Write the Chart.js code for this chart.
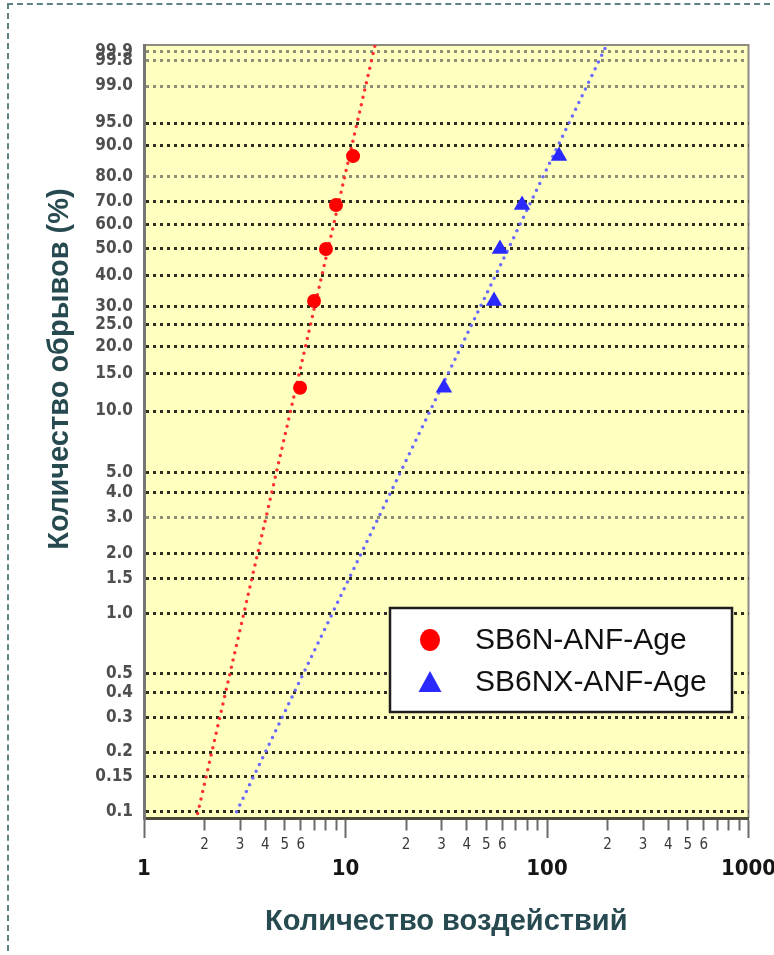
<!DOCTYPE html>
<html>
<head>
<meta charset="utf-8">
<script src="https://cdn.jsdelivr.net/npm/chart.js@4.4.1/dist/chart.umd.min.js"></script>
<style>
  body { margin: 0; background: #fff; }
  #wrap { position: relative; width: 774px; height: 955px; overflow: hidden; }
  #myChart { position: absolute; left: 0; top: 0; }
  #frame { position: absolute; left: 7px; top: 3px; right: -6px; bottom: -6px;
           border-top: 2px dashed #5f8283; border-left: 2px dashed #5f8283; pointer-events: none; }
</style>
</head>
<body>
<div id="wrap">
  <canvas id="myChart" width="774" height="955"></canvas>
  <div id="frame"></div>
</div>
<script>
// Weibull plot: cumulative breaks (%) vs number of impacts

// axis ticks
const yTickPct = [99.9, 99.8, 99, 95, 90, 80, 70, 60, 50, 40, 30, 25, 20, 15, 10, 5, 4, 3, 2, 1.5, 1, 0.5, 0.4, 0.3, 0.2, 0.15, 0.1];
const yAxisPct = [0.093, 99.94];
const xMajorTicks = [1, 10, 100, 1000];
const xMinorDigits = [2, 3, 4, 5, 6];

// series
const seriesNames = ['SB6N-ANF-Age', 'SB6NX-ANF-Age'];
const rankPct = [12.9, 31.5, 50.0, 68.5, 87.0];
const sb6nX = [5.95, 6.98, 8.0, 8.97, 10.9];
const sb6nxX = [30.8, 54.6, 58.4, 75.2, 114.7];

// fitted lines, end points
const sb6nFitX = [1.81, 14.1];
const sb6nFitPct = [0.09, 99.95];
const sb6nxFitX = [2.88, 200];
const sb6nxFitPct = [0.1, 99.95];

const xTitle = 'Количество воздействий';
const yTitle = 'Количество обрывов (%)';

function weib(p) {
    // Weibull probability axis
    return Math.log(-Math.log(1 - p / 100));
}

function pts(xs, ps) {
    return xs.map((x, i) => ({x: x, y: weib(ps[i])}));
}

function pctLabel(p) {
    return p >= 1 ? p.toFixed(1) : String(p);
}

function isMajor(v) {
    return xMajorTicks.includes(v);
}

function mantissa(v) {
    return v / Math.pow(10, Math.floor(Math.log10(v) + 1e-9));
}

const narrow = "'Liberation Sans Narrow', 'DejaVu Sans Condensed', 'Liberation Sans', sans-serif";
const titleColor = '#264a50';
const lightLines = [99.9, 99.8, 99, 80, 3];

Chart.defaults.font.family = "'Liberation Sans', Arial, sans-serif";

const plotBg = {
    id: 'plotBg',
    beforeDraw(chart) {
        const {ctx, chartArea: a} = chart;
        ctx.save();
        ctx.fillStyle = '#ffffc0';
        ctx.fillRect(a.left, a.top, a.width, a.height);
        ctx.strokeStyle = '#8c8c80';
        ctx.lineWidth = 2;
        ctx.beginPath();
        ctx.moveTo(a.left, a.top);
        ctx.lineTo(a.right, a.top);
        ctx.lineTo(a.right, a.bottom);
        ctx.stroke();
        ctx.restore();
    }
};

// vertical axis title, sits higher than the middle of the plot
const sideTitle = {
    id: 'sideTitle',
    afterDraw(chart) {
        const ctx = chart.ctx;
        ctx.save();
        ctx.translate(60, 369);
        ctx.rotate(-Math.PI / 2);
        ctx.font = "bold 29px 'Liberation Sans', Arial, sans-serif";
        ctx.fillStyle = titleColor;
        ctx.textAlign = 'center';
        ctx.textBaseline = 'middle';
        ctx.fillText(yTitle, 0, 0);
        ctx.restore();
    }
};

const boxLegend = {
    id: 'boxLegend',
    afterDraw(chart) {
        const {ctx, chartArea: a} = chart;
        const w = 342, h = 104;
        const x0 = a.right - 16.5 - w, y0 = a.bottom - 106 - h;
        ctx.save();
        ctx.fillStyle = '#ffffff';
        ctx.fillRect(x0, y0, w, h);
        ctx.strokeStyle = '#1e1e1e';
        ctx.lineWidth = 2.5;
        ctx.strokeRect(x0, y0, w, h);
        ctx.font = "30px 'Liberation Sans', Arial, sans-serif";
        ctx.textBaseline = 'middle';
        chart.data.datasets.filter(d => d.label).forEach((d, i) => {
            const cx = x0 + 40, cy = y0 + 32 + i * 42;
            ctx.fillStyle = d.backgroundColor;
            ctx.beginPath();
            if (d.pointStyle === 'triangle') {
                ctx.moveTo(cx, cy - 11);
                ctx.lineTo(cx + 11.5, cy + 10);
                ctx.lineTo(cx - 11.5, cy + 10);
                ctx.closePath();
            } else {
                ctx.ellipse(cx, cy, 10, 11, 0, 0, 2 * Math.PI);
            }
            ctx.fill();
            ctx.fillStyle = '#111111';
            ctx.fillText(d.label, x0 + 85, cy + 1);
        });
        ctx.restore();
    }
};

let myChart = document.getElementById('myChart').getContext('2d');

let chart = new Chart(myChart, {
    type: 'scatter',
    data: {
        datasets: [{
            label: seriesNames[0],
            data: pts(sb6nX, rankPct),
            pointStyle: 'circle',
            pointRadius: 7,
            backgroundColor: '#ff0000',
            borderColor: '#ff0000',
            borderWidth: 0
        }, {
            label: seriesNames[1],
            data: pts(sb6nxX, rankPct),
            pointStyle: 'triangle',
            pointRadius: 9.5,
            backgroundColor: '#2a2aff',
            borderColor: '#2a2aff',
            borderWidth: 0
        }, {
            data: pts(sb6nFitX, sb6nFitPct),
            showLine: true,
            pointRadius: 0,
            borderColor: '#ff3030',
            borderWidth: 3.5,
            borderDash: [0, 7.5],
            borderCapStyle: 'round',
            clip: 0
        }, {
            data: pts(sb6nxFitX, sb6nxFitPct),
            showLine: true,
            pointRadius: 0,
            borderColor: '#6a6aff',
            borderWidth: 3.5,
            borderDash: [0, 7.5],
            borderCapStyle: 'round',
            clip: 0
        }]
    },
    options: {
        responsive: false,
        animation: false,
        devicePixelRatio: 1,
        events: [],
        layout: {padding: {left: 0, top: 45, right: 25.5, bottom: 15}},
        plugins: {
            legend: {display: false},
            tooltip: {enabled: false}
        },
        scales: {
            x: {
                type: 'logarithmic',
                position: 'bottom',
                min: xMajorTicks[0],
                max: xMajorTicks[xMajorTicks.length - 1],
                border: {color: '#4b4b3c', width: 3},
                grid: {
                    drawOnChartArea: false,
                    tickLength: 20,
                    tickColor: '#6b6b6b',
                    tickWidth: 2,
                    // minor ticks are cut short with a dash
                    tickBorderDash: c => isMajor(c.tick.value) ? [] : [10.5, 40]
                },
                afterBuildTicks: function (s) {
                    // only 1..9 in each decade
                    s.ticks = s.ticks.filter(t => Math.abs(mantissa(t.value) - Math.round(mantissa(t.value))) < 1e-6);
                },
                ticks: {
                    autoSkip: false,
                    maxRotation: 0,
                    padding: -2,
                    color: c => isMajor(c.tick.value) ? '#151515' : '#3a3a3a',
                    font: c => isMajor(c.tick.value)
                        ? {family: narrow, size: 22, weight: 'bold', lineHeight: 1}
                        : {family: narrow, size: 15},
                    callback: function (v) {
                        if (isMajor(v)) return ['', String(v)];
                        const m = Math.round(mantissa(v));
                        return xMinorDigits.includes(m) ? String(m) : '';
                    }
                },
                title: {
                    display: true,
                    text: xTitle,
                    color: titleColor,
                    font: {size: 29, weight: 'bold'},
                    padding: {top: 0, bottom: 1}
                },
                afterFit: function (s) {
                    s.height = 122;
                    s.paddingLeft = 0;
                    s.paddingRight = 0;
                }
            },
            y: {
                type: 'linear',
                min: weib(yAxisPct[0]),
                max: weib(yAxisPct[1]),
                border: {color: '#767676', width: 3, dash: [3, 4]},
                grid: {
                    drawTicks: false,
                    lineWidth: 3,
                    color: c => lightLines.includes(yTickPct[c.index]) ? '#8e8e76' : '#2d2d20'
                },
                afterBuildTicks: function (s) {
                    s.ticks = yTickPct.map(p => ({value: weib(p)}));
                },
                ticks: {
                    autoSkip: false,
                    padding: 11,
                    color: '#4e4e4e',
                    font: {family: narrow, size: 17, weight: 'bold'},
                    callback: (v, i) => pctLabel(yTickPct[i])
                },
                afterFit: function (s) {
                    s.width = 144;
                    s.paddingTop = 0;
                    s.paddingBottom = 0;
                }
            }
        }
    },
    plugins: [plotBg, boxLegend, sideTitle]
});
</script>
</body>
</html>
